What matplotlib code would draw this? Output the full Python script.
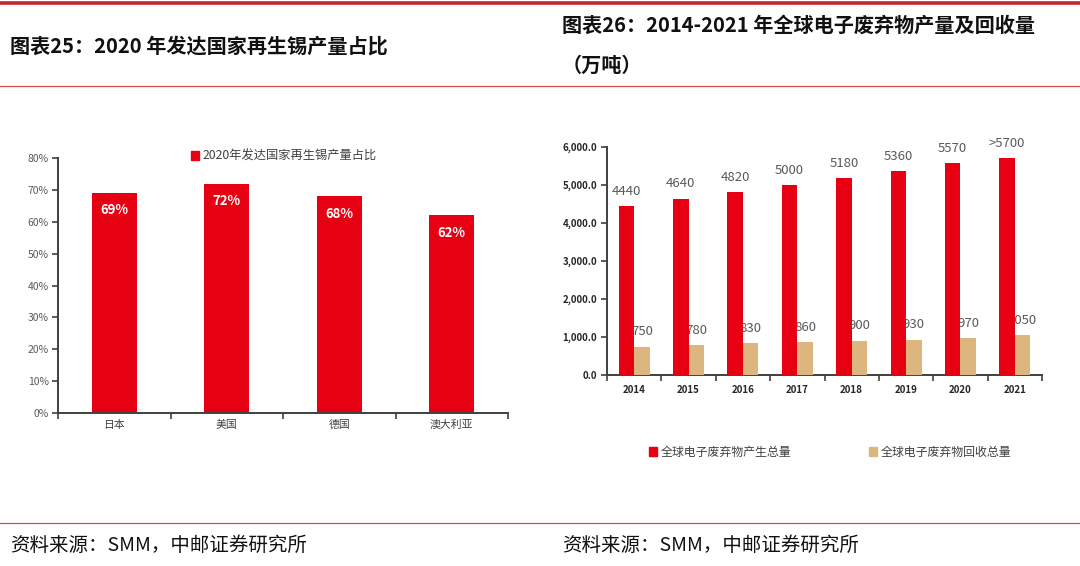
import matplotlib
matplotlib.use("Agg")
import matplotlib.pyplot as plt
from matplotlib.lines import Line2D
from matplotlib.patches import Patch
import numpy as np

plt.rcParams['font.family'] = ['Noto Sans CJK SC', 'DejaVu Sans']

# ---------------- data ----------------
left_title = "图表25：2020 年发达国家再生锡产量占比"
right_title_1 = "图表26：2014-2021 年全球电子废弃物产量及回收量"
right_title_2 = "（万吨）"
source_text = "资料来源：SMM，中邮证券研究所"

countries = ["日本", "美国", "德国", "澳大利亚"]
tin_share = [69, 72, 68, 62]
tin_legend = "2020年发达国家再生锡产量占比"
tin_yticks = [0, 10, 20, 30, 40, 50, 60, 70, 80]

years = ["2014", "2015", "2016", "2017", "2018", "2019", "2020", "2021"]
ewaste_total = [4440, 4640, 4820, 5000, 5180, 5360, 5570, 5700]
ewaste_total_labels = ["4440", "4640", "4820", "5000", "5180", "5360", "5570", ">5700"]
ewaste_recycled = [750, 780, 830, 860, 900, 930, 970, 1050]
ewaste_recycled_labels = ["750", "780", "830", "860", "900", "930", "970", "1050"]
ewaste_legend = ["全球电子废弃物产生总量", "全球电子废弃物回收总量"]
ewaste_yticks = [0, 1000, 2000, 3000, 4000, 5000, 6000]

RED = "#E60012"
TAN = "#DDB67F"
AXIS = "#404040"
LINE_RED = "#C9252C"

W, H = 1080, 566
fig = plt.figure(figsize=(W / 100, H / 100), dpi=100)

def px(x, y):
    return x / W, 1 - y / H

# ---------- decorative lines ----------
fig.add_artist(Line2D([0, 1], [1 - 3 / H] * 2, color=LINE_RED, lw=2.6, transform=fig.transFigure))
fig.add_artist(Line2D([0, 1], [1 - 86 / H] * 2, color="#D84A50", lw=0.9, transform=fig.transFigure))
fig.add_artist(Line2D([0, 1], [1 - 523 / H] * 2, color="#D84A50", lw=0.9, transform=fig.transFigure))

# ---------- titles ----------
fig.text(*px(10, 46), left_title, fontsize=14.5, fontweight='bold', va='center', ha='left', color='#111111')
fig.text(*px(562, 25), right_title_1, fontsize=14.5, fontweight='bold', va='center', ha='left', color='#111111')
fig.text(*px(562, 65), right_title_2, fontsize=14.5, fontweight='bold', va='center', ha='left', color='#111111')
fig.text(*px(10, 545), source_text, fontsize=14, va='center', ha='left', color='#111111')
fig.text(*px(562, 545), source_text, fontsize=14, va='center', ha='left', color='#111111')

def style_axes(ax):
    for s in ['top', 'right']:
        ax.spines[s].set_visible(False)
    for s in ['left', 'bottom']:
        ax.spines[s].set_color(AXIS)
        ax.spines[s].set_linewidth(1.4)
    ax.tick_params(axis='both', which='major', color=AXIS, width=1.2, length=4, direction='out')

# ---------- left chart ----------
ax1 = fig.add_axes([58 / W, 1 - 413 / H, (508 - 58) / W, (413 - 158) / H])
xl = np.arange(len(countries))
ax1.bar(xl, tin_share, width=0.4, color=RED, zorder=2)
for xi, v in zip(xl, tin_share):
    ax1.annotate(f"{v}%", (xi, v), xytext=(0, -12.5), textcoords='offset points',
                 ha='center', va='center', color='white', fontsize=9.5, fontweight='bold', zorder=3)
ax1.set_xlim(-0.5, len(countries) - 0.5)
ax1.set_ylim(0, 80)
ax1.set_yticks(tin_yticks)
ax1.set_yticklabels([f"{t}%" for t in tin_yticks], fontsize=7.5, color='#595959')
ax1.set_xticks(np.arange(-0.5, len(countries), 1.0))
ax1.set_xticklabels([])
ax1.set_xticks(xl, minor=True)
ax1.set_xticklabels(countries, minor=True, fontsize=7.8, color='#404040')
style_axes(ax1)
ax1.tick_params(axis='x', which='minor', length=0, pad=5)
ax1.tick_params(axis='y', pad=2.5)
ax1.legend(handles=[Patch(color=RED, label=tin_legend)], loc='center', bbox_to_anchor=(284 / W, 1 - 156 / H),
           bbox_transform=fig.transFigure, frameon=False, fontsize=8.8, handlelength=0.7, handleheight=0.7,
           handletextpad=0.3, labelcolor='#404040')

# ---------- right chart ----------
ax2 = fig.add_axes([607 / W, 1 - 375 / H, (1042 - 607) / W, (375 - 147) / H])
xr = np.arange(len(years))
bw = 0.286
ax2.bar(xr - bw / 2, ewaste_total, width=bw, color=RED, zorder=3)
ax2.bar(xr + bw / 2, ewaste_recycled, width=bw, color=TAN, zorder=3)
for xi, v, lab in zip(xr, ewaste_total, ewaste_total_labels):
    ax2.annotate(lab, (xi - bw / 2, v), xytext=(0, 6), textcoords='offset points',
                 ha='center', va='bottom', color='#595959', fontsize=9.5, zorder=1)
for xi, v, lab in zip(xr, ewaste_recycled, ewaste_recycled_labels):
    ax2.annotate(lab, (xi + bw / 2, v), xytext=(0, 6), textcoords='offset points',
                 ha='center', va='bottom', color='#595959', fontsize=9.5, zorder=1)
ax2.set_xlim(-0.5, len(years) - 0.5)
ax2.set_ylim(0, 6000)
ax2.set_yticks(ewaste_yticks)
ax2.set_yticklabels([f"{t:,.1f}" for t in ewaste_yticks], fontsize=7, color='#262626', fontweight='bold')
ax2.set_xticks(np.arange(-0.5, len(years), 1.0))
ax2.set_xticklabels([])
ax2.set_xticks(xr, minor=True)
ax2.set_xticklabels(years, minor=True, fontsize=7, color='#262626', fontweight='bold')
style_axes(ax2)
ax2.tick_params(axis='x', which='minor', length=0, pad=7)
ax2.tick_params(axis='y', pad=3)

fig.legend(handles=[Patch(color=RED, label=ewaste_legend[0])], loc='center left',
           bbox_to_anchor=(638 / W, 1 - 452 / H), frameon=False, fontsize=8.6, handlelength=0.7,
           handleheight=0.7, handletextpad=0.3, labelcolor='#404040')
fig.legend(handles=[Patch(color=TAN, label=ewaste_legend[1])], loc='center left',
           bbox_to_anchor=(858 / W, 1 - 452 / H), frameon=False, fontsize=8.6, handlelength=0.7,
           handleheight=0.7, handletextpad=0.3, labelcolor='#404040')

fig.savefig("out.png", dpi=100)
